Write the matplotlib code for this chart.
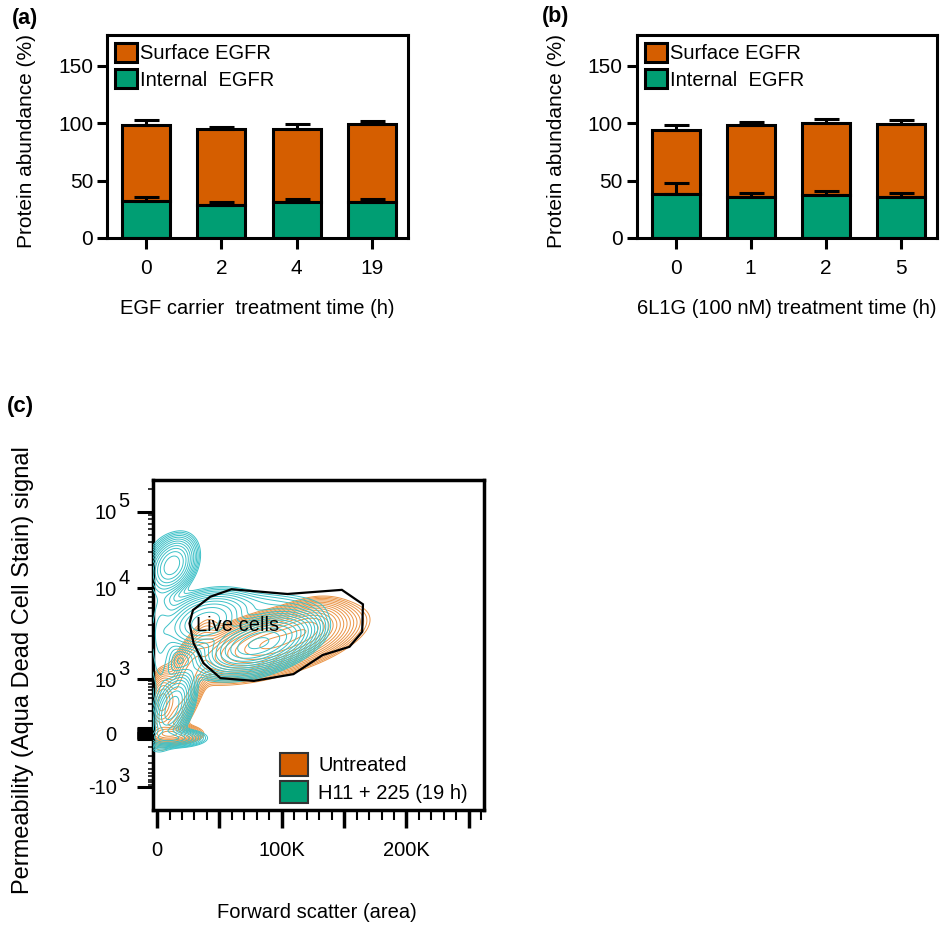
import numpy as np
import matplotlib
matplotlib.use('Agg')
import matplotlib.pyplot as plt
from matplotlib.ticker import FixedLocator, FuncFormatter
from matplotlib.patches import Patch

plt.rcParams['font.family'] = ['Liberation Sans', 'DejaVu Sans']

ORANGE = '#D55E00'
GREEN = '#009E73'
ORANGE_LINE = '#EA9445'
TEAL_LINE = '#3DC1C8'

# (a) EGF carrier treatment, stacked % abundance
a_times = ['0', '2', '4', '19']
a_internal = [31.9, 28.4, 31.3, 31.3]
a_internal_err = [3.4, 2.9, 2.3, 2.3]
a_surface = [66.7, 66.5, 63.6, 68.4]
a_total_err = [4.4, 2.2, 4.3, 2.7]

# (b) 6L1G treatment
b_times = ['0', '1', '2', '5']
b_internal = [38.3, 35.9, 37.7, 35.3]
b_internal_err = [9.2, 2.9, 3.5, 3.5]
b_surface = [55.7, 62.7, 62.6, 64.2]
b_total_err = [4.6, 2.4, 3.5, 3.2]

# (c) flow populations: fsc, signal, sd_fsc, sd_display, rho, peak weight
untreated_pops = [
    (92700, 2500, 24000, 13, 0.55, 1.0),
    (122000, 3760, 11500, 10, 0.30, 0.45),
    (4000, 325, 4800, 12, 0.20, 0.4),
    (22600, 760, 9700, 25, 0.75, 0.15),
    (10500, 0, 9700, 4, 0.0, 0.25),
]
treated_pops = [
    (81500, 2500, 17700, 12, 0.45, 1.0),
    (38700, 4270, 14500, 12, 0.30, 0.3),
    (12000, 20000, 8000, 12, 0.30, 0.3),
    (12000, 236, 7300, 15, 0.50, 0.3),
    (2400, 2700, 6500, 40, 0.0, 0.04),
    (12000, -30, 11300, 4, 0.0, 0.12),
    (71000, 6500, 32000, 8, 0.0, 0.02),
]
gate_fsc = [59700, 104600, 148200, 165100, 164500, 154300, 132800, 109400,
            77700, 50800, 37300, 29300, 26000, 28800, 42700]
gate_sig = [9750, 8650, 9600, 6670, 3330, 2280, 1850, 1140,
            924, 1030, 1500, 2490, 4120, 5760, 8070]

# biexponential-like display scale for the signal axis
Y_ANCH_VAL = np.array([-1e9, -1e3, 0, 1e3, 1e4, 1e5, 1e9])
Y_ANCH_POS = np.array([-336.7, 23.3, 76, 130.7, 221.7, 298.3, 604.7])


def _u(v):
    return np.arcsinh(np.asarray(v, dtype=float) / 150) / np.log(10)


U_ANCH = _u(Y_ANCH_VAL)


def sig_fwd(v):
    return np.interp(_u(v), U_ANCH, Y_ANCH_POS)


def sig_inv(t):
    return 150 * np.sinh(np.log(10) * np.interp(np.asarray(t, dtype=float), Y_ANCH_POS, U_ANCH))


fig = plt.figure(figsize=(9.43, 9.31), dpi=100)


def draw_bars(ax, times, internal, internal_err, surface, total_err, xlabel):
    x = np.arange(len(times))
    zeros = np.zeros(len(x))
    total = np.add(internal, surface)
    ax.bar(x, surface, bottom=internal, width=0.64, color=ORANGE, edgecolor='black',
           linewidth=2.2, label='Surface EGFR', zorder=2)
    ax.bar(x, internal, width=0.64, color=GREEN, edgecolor='black',
           linewidth=2.2, label='Internal  EGFR', zorder=2)
    for top, err in ((total, total_err), (internal, internal_err)):
        ax.errorbar(x, top, yerr=[zeros, err], fmt='none', ecolor='black',
                    elinewidth=2.2, capsize=9, capthick=2.2, zorder=3)
    ax.set_xlim(-0.52, 3.48)
    ax.set_ylim(0, 177)
    ax.set_yticks([0, 50, 100, 150])
    ax.set_xticks(x)
    ax.set_xticklabels(times)
    for s in ax.spines.values():
        s.set_linewidth(2.2)
    ax.tick_params(axis='y', length=7, width=2.2, labelsize=15, pad=3)
    ax.tick_params(axis='x', length=8, width=2.2, labelsize=15, pad=7)
    ax.set_ylabel('Protein abundance (%)', fontsize=15)
    ax.yaxis.set_label_coords(-0.236, 0.48)
    ax.set_xlabel(xlabel, fontsize=14.5, labelpad=15)
    ax.legend(loc='upper left', frameon=False, fontsize=14.5, handlelength=1.1,
              handleheight=1.05, handletextpad=0.15, labelspacing=0.3,
              borderaxespad=0.4, borderpad=0)


axa = fig.add_axes([0.1135, 0.7444, 0.3192, 0.218])
draw_bars(axa, a_times, a_internal, a_internal_err, a_surface, a_total_err,
          'EGF carrier  treatment time (h)')
axb = fig.add_axes([0.6752, 0.7444, 0.318, 0.218])
draw_bars(axb, b_times, b_internal, b_internal_err, b_surface, b_total_err,
          '6L1G (100 nM) treatment time (h)')

# (c) contour plot
axc = fig.add_axes([0.1622, 0.130, 0.351, 0.3545])
axc.set_yscale('function', functions=(sig_fwd, sig_inv))

gx = np.linspace(-3300, 262144, 420)
gt = np.linspace(0, 330, 420)
GX, GT = np.meshgrid(gx, gt)


def density(pops):
    z = np.zeros_like(GX)
    for fsc, sig, sfsc, st, rho, w in pops:
        dx = (GX - fsc) / sfsc
        dy = (GT - sig_fwd(sig)) / st
        q = (dx * dx - 2 * rho * dx * dy + dy * dy) / (1 - rho * rho)
        z += w * np.exp(-0.5 * q)
    return z / z.max()


levels = np.geomspace(0.005, 0.9, 16)
GY = sig_inv(GT)
axc.contour(GX, GY, density(untreated_pops), levels=levels, colors=ORANGE_LINE,
            linewidths=0.7, zorder=2)
axc.contour(GX, GY, density(treated_pops), levels=levels, colors=TEAL_LINE,
            linewidths=0.7, zorder=3)

axc.fill(gate_fsc, gate_sig, facecolor='none', edgecolor='black', linewidth=1.6, zorder=4)
axc.text(64500, 3860, 'Live cells', fontsize=14.5, ha='center', va='center', zorder=5)

axc.set_xlim(-3300, 262144)
axc.set_ylim(sig_inv(0), sig_inv(330))

# x ticks
x_major = [0, 50000, 100000, 150000, 200000, 250000]
x_labels = {0: '0', 100000: '100K', 200000: '200K'}
axc.xaxis.set_major_locator(FixedLocator(x_major))
axc.xaxis.set_major_formatter(FuncFormatter(lambda v, p: x_labels.get(int(round(v)), '')))
axc.xaxis.set_minor_locator(FixedLocator([v for v in range(10000, 262144, 10000) if v % 50000]))

# y ticks
y_major = [-1000, 0, 1000, 10000, 100000]
y_block = list(range(-40, 41, 8))
y_labels = {-1000: '-10', 0: '0', 1000: '10', 10000: '10', 100000: '10'}
axc.yaxis.set_major_locator(FixedLocator(sorted(set(y_major + y_block))))
axc.yaxis.set_major_formatter(FuncFormatter(
    lambda v, p: y_labels.get(int(round(v)), '') if int(round(v)) in y_major else ''))
y_minor = [k * 10 ** d for d in (3, 4) for k in range(2, 10)] + [200000]
y_minor += [k * 100 for k in range(1, 10)] + [-k * 100 for k in range(1, 10)]
axc.yaxis.set_minor_locator(FixedLocator(y_minor))

for v, s in [(-1000, '3'), (1000, '3'), (10000, '4'), (100000, '5')]:
    axc.annotate(s, xy=(0, v), xycoords=axc.get_yaxis_transform(), xytext=(-25, 7),
                 textcoords='offset points', fontsize=14.5, ha='left', va='center')

for s in axc.spines.values():
    s.set_linewidth(2.5)
axc.tick_params(axis='x', which='major', length=13, width=2.5, labelsize=14.5, pad=9)
axc.tick_params(axis='x', which='minor', length=7, width=1.5)
axc.tick_params(axis='y', which='major', length=11.5, width=2.2, labelsize=14.5, pad=14.5)
axc.tick_params(axis='y', which='minor', length=3.6, width=1.1)

axc.set_ylabel('Permeability (Aqua Dead Cell Stain) signal', fontsize=17)
axc.yaxis.set_label_coords(-0.36, 0.424)
axc.set_xlabel('Forward scatter (area)', fontsize=14.5)
axc.xaxis.set_label_coords(0.494, -0.282)

handles = [Patch(facecolor=ORANGE, edgecolor='#333333', linewidth=1.5, label='Untreated'),
           Patch(facecolor=GREEN, edgecolor='#333333', linewidth=1.5, label='H11 + 225 (19 h)')]
axc.legend(handles=handles, loc='lower left', bbox_to_anchor=(0.384, 0.02), frameon=False,
           fontsize=14.5, handlelength=1.4, handleheight=1.35, handletextpad=0.5,
           labelspacing=0.25, borderaxespad=0, borderpad=0)

fig.text(0.0127, 1 - 8 / 931, '(a)', fontsize=15.5, fontweight='bold', va='top')
fig.text(0.5744, 1 - 6 / 931, '(b)', fontsize=15.5, fontweight='bold', va='top')
fig.text(0.0071, 1 - 396 / 931, '(c)', fontsize=16, fontweight='bold', va='top')

fig.savefig('out.png', dpi=100)
